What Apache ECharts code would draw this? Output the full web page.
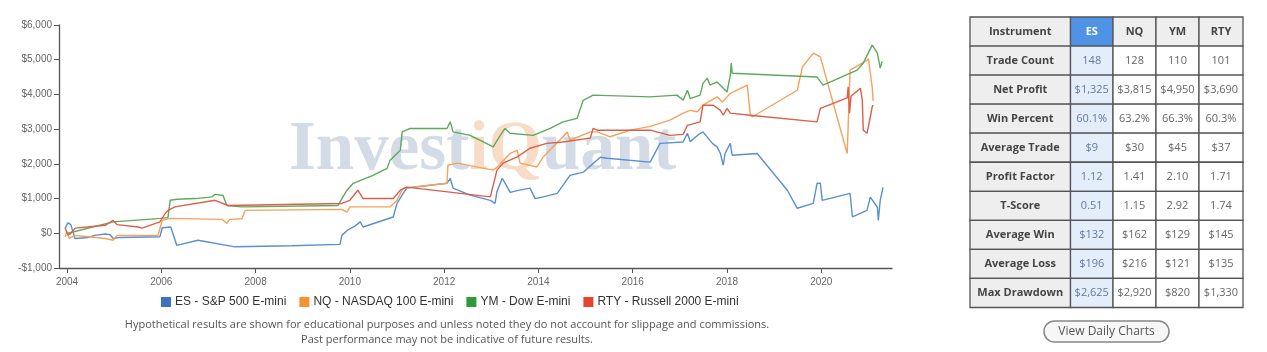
<!DOCTYPE html>
<html lang="en">
<head>
    <meta charset="UTF-8">
    <title>Instrument comparison</title>
    <script src="https://cdn.jsdelivr.net/npm/echarts@6/dist/echarts.min.js"></script>
    <style>
        html, body { margin: 0; padding: 0; background: #fff; }
    </style>
</head>
<body>
    <div id="main" style="width:1267px;height:352px;"></div>
<script>
    // equity curves, [year, cumulative profit $]
    var esData = [
        [2003.96,150],[2004.02,300],[2004.08,250],[2004.17,-150],[2004.45,-120],[2004.59,-60],[2004.81,-20],
        [2004.91,-40],[2004.98,-150],[2005.1,-120],[2005.97,-100],[2006.02,160],[2006.2,180],[2006.33,-350],
        [2006.78,-200],[2007.56,-390],[2008.77,-360],[2009.79,-320],[2009.83,-60],[2009.96,100],[2010.1,200],
        [2010.22,330],[2010.28,180],[2010.92,470],[2011.0,860],[2011.13,1150],[2011.21,1300],[2012.06,1440],
        [2012.13,1580],[2012.19,1300],[2012.55,1100],[2012.98,950],[2013.08,860],[2013.12,1200],[2013.23,1580],
        [2013.29,1450],[2013.4,1180],[2013.55,1230],[2013.82,1300],[2013.93,1000],[2014.1,1050],[2014.4,1150],
        [2014.52,1380],[2014.67,1670],[2014.95,1760],[2015.31,2190],[2015.46,2160],[2016.37,2050],[2016.58,2590],
        [2017.07,2630],[2017.16,2880],[2017.22,2640],[2017.43,2880],[2017.49,2920],[2017.69,2590],[2017.79,2490],
        [2017.86,2300],[2017.92,1960],[2017.96,2300],[2018.07,2590],[2018.11,2250],[2018.64,2300],[2019.28,1240],
        [2019.49,720],[2019.83,860],[2019.91,1440],[2019.98,1440],[2020.02,950],[2020.61,1150],[2020.66,470],
        [2020.97,660],[2021.04,1040],[2021.19,750],[2021.21,370],[2021.25,950],[2021.31,1325]
    ];
    var nqData = [
        [2003.96,-100],[2004.0,50],[2004.05,-150],[2004.17,-60],[2004.45,-100],[2004.81,-150],[2004.98,-200],
        [2005.06,-60],[2005.93,-60],[2006.02,370],[2006.19,430],[2007.29,400],[2007.39,290],[2007.45,400],
        [2007.71,420],[2007.78,660],[2009.83,690],[2009.94,610],[2010.0,760],[2010.85,760],[2011.0,950],
        [2011.13,1300],[2012.06,1440],[2012.08,1960],[2012.28,2020],[2013.04,1820],[2013.12,1900],[2013.4,2300],
        [2013.55,2390],[2013.61,2020],[2013.97,1910],[2014.1,2200],[2014.52,2780],[2014.61,2920],[2014.67,2680],
        [2015.1,2920],[2015.25,2920],[2015.52,2780],[2015.95,2970],[2016.37,3080],[2016.79,3260],[2017.07,3460],
        [2017.22,3540],[2017.37,3500],[2017.49,3690],[2017.79,3930],[2017.9,3780],[2018.07,4030],[2018.43,4270],
        [2018.49,3460],[2018.53,3350],[2019.49,4120],[2019.6,4790],[2019.83,5190],[2019.98,5080],[2020.55,2300],
        [2020.61,4700],[2020.97,4980],[2021.0,5040],[2021.08,4200],[2021.1,3815]
    ];
    var ymData = [
        [2004.02,0],[2004.98,330],[2005.99,430],[2006.14,450],[2006.19,950],[2006.33,980],[2006.72,1000],
        [2007.08,1050],[2007.14,1120],[2007.31,1090],[2007.39,800],[2007.71,760],[2009.75,800],[2009.83,1000],
        [2009.94,1240],[2010.07,1440],[2010.49,1670],[2010.79,1870],[2010.85,2100],[2011.07,2390],[2011.11,2920],
        [2011.28,3020],[2012.06,3020],[2012.13,3210],[2012.19,2920],[2012.55,2820],[2012.83,2630],[2013.04,2490],
        [2013.19,2820],[2013.29,3020],[2013.4,2880],[2013.89,2820],[2014.25,3020],[2014.52,3210],[2014.82,3310],
        [2014.95,3830],[2015.16,3980],[2016.37,3930],[2016.94,3980],[2017.07,3830],[2017.16,4120],[2017.22,3880],
        [2017.43,3980],[2017.49,4320],[2017.58,4470],[2017.64,4270],[2017.79,4360],[2018.0,4070],[2018.07,4550],
        [2018.09,4900],[2018.11,4610],[2019.91,4500],[2020.04,4270],[2020.76,4700],[2020.89,4900],[2021.08,5420],
        [2021.1,5470],[2021.19,5190],[2021.25,4760],[2021.29,4950]
    ];
    var rtyData = [
        [2003.96,150],[2004.02,-50],[2004.08,0],[2004.17,150],[2004.81,230],[2004.98,370],[2005.06,250],
        [2005.51,180],[2005.59,150],[2005.97,330],[2006.08,570],[2006.14,660],[2006.29,760],[2007.14,950],
        [2007.42,800],[2009.83,860],[2010.0,950],[2010.17,1240],[2010.28,1000],[2010.92,1000],[2011.07,1240],
        [2011.21,1330],[2012.98,1050],[2013.12,1820],[2013.25,2020],[2013.55,2200],[2013.82,2450],[2014.18,2590],
        [2014.52,2630],[2015.1,2740],[2015.16,3020],[2015.25,2970],[2016.37,2970],[2016.79,2820],[2017.07,2850],
        [2017.16,3110],[2017.43,3210],[2017.49,3690],[2017.71,3690],[2017.86,3540],[2017.92,3400],[2018.0,3600],
        [2018.07,3460],[2018.49,3400],[2019.91,3210],[2019.98,3600],[2020.55,3900],[2020.57,4220],[2020.6,3460],
        [2020.63,3950],[2020.83,4180],[2020.87,3830],[2020.89,2970],[2020.97,2880],[2021.04,3350],[2021.08,3640],
        [2021.1,3690]
    ];

    var seriesNames = ['ES - S&P 500 E-mini', 'NQ - NASDAQ 100 E-mini', 'YM - Dow E-mini', 'RTY - Russell 2000 E-mini'];

    // stats table
    var instruments = ['ES', 'NQ', 'YM', 'RTY'];
    var metrics = ['Trade Count', 'Net Profit', 'Win Percent', 'Average Trade', 'Profit Factor', 'T-Score', 'Average Win', 'Average Loss', 'Max Drawdown'];
    var esStats = ['148', '$1,325', '60.1%', '$9', '1.12', '0.51', '$132', '$196', '$2,625'];
    var nqStats = ['128', '$3,815', '63.2%', '$30', '1.41', '1.15', '$162', '$216', '$2,920'];
    var ymStats = ['110', '$4,950', '66.3%', '$45', '2.10', '2.92', '$129', '$121', '$820'];
    var rtyStats = ['101', '$3,690', '60.3%', '$37', '1.71', '1.74', '$145', '$135', '$1,330'];

    var disclaimer = [
        'Hypothetical results are shown for educational purposes and unless noted they do not account for slippage and commissions.',
        'Past performance may not be indicative of future results.'
    ];

    var lineColors = ['#5b8fcf', '#f6a15c', '#5fa95c', '#dc5f48'];
    var legendColors = ['#3f72c0', '#f7922e', '#2f9a3c', '#e6442e'];

    var graphics = [];

    // watermark
    graphics.push({
        type: 'text', x: 289, y: 151, z: 0, silent: true,
        style: {
            text: 'Invest{o|iQ}uant',
            fontFamily: 'Liberation Serif', fontWeight: 'bold', fontSize: 69,
            fill: '#d3dbe6', verticalAlign: 'middle',
            rich: { o: { fontFamily: 'Liberation Serif', fontWeight: 'bold', fontSize: 69, fill: '#f9dcc8' } }
        }
    });

    // disclaimer
    disclaimer.forEach(function (t, i) {
        graphics.push({
            type: 'text', x: 447, y: 325 + i * 15,
            style: { text: t, font: '11px "Open Sans"', fill: '#555', align: 'center', verticalAlign: 'middle' }
        });
    });

    // table
    var colX = [970, 1070.5, 1113, 1156, 1199, 1243];
    var rowTop = 17, rowH = 29.05;
    var statCols = [esStats, nqStats, ymStats, rtyStats];
    for (var r = 0; r <= metrics.length; r++) {
        for (var c = 0; c < colX.length - 1; c++) {
            var isHead = r === 0, isFirst = c === 0, isES = c === 1;
            var fill = '#fff', txtColor = '#666', weight = 'normal', text;
            if (isHead) {
                text = isFirst ? 'Instrument' : instruments[c - 1];
                fill = isES ? '#4f93e6' : '#eeeeee';
                txtColor = isES ? '#fff' : '#444';
                weight = 'bold';
            } else if (isFirst) {
                text = metrics[r - 1];
                fill = '#eeeeee'; txtColor = '#444'; weight = 'bold';
            } else {
                text = statCols[c - 1][r - 1];
                if (isES) { fill = '#e4eefb'; txtColor = '#6378a0'; }
            }
            var y0 = rowTop + r * rowH;
            graphics.push({
                type: 'rect',
                shape: { x: colX[c], y: y0, width: colX[c + 1] - colX[c], height: rowH },
                style: { fill: fill, stroke: '#555', lineWidth: 1.3 }
            });
            graphics.push({
                type: 'text', x: (colX[c] + colX[c + 1]) / 2, y: y0 + rowH / 2,
                style: {
                    text: text, fill: txtColor, align: 'center', verticalAlign: 'middle',
                    font: weight + ' 11px "Open Sans"'
                }
            });
        }
    }

    // button
    graphics.push({
        type: 'rect',
        shape: { x: 1044, y: 321, width: 125, height: 21, r: 10.5 },
        style: { fill: '#f7f7f7', stroke: '#888', lineWidth: 1.5 }
    });
    graphics.push({
        type: 'text', x: 1106.5, y: 331.5,
        style: { text: 'View Daily Charts', font: '12px "Open Sans"', fill: '#555', align: 'center', verticalAlign: 'middle' }
    });

    var chart = echarts.init(document.getElementById('main'));
    var allData = [esData, nqData, ymData, rtyData];

    var option = {
        animation: false,
        backgroundColor: '#fff',
        textStyle: { fontFamily: 'Liberation Sans' },
        grid: { left: 59, right: 375, top: 25, bottom: 84, containLabel: false },
        legend: {
            left: 156, top: 291,
            icon: 'rect', itemWidth: 10, itemHeight: 10, itemGap: 13,
            textStyle: { fontFamily: 'Liberation Sans', fontSize: 12, color: '#333', padding: [0, 0, 0, -1] },
            data: seriesNames.map(function (n, i) {
                return { name: n, itemStyle: { color: legendColors[i] } };
            })
        },
        xAxis: {
            type: 'value',
            min: 2003.83, max: 2021.5,
            splitNumber: 9, minInterval: 2, maxInterval: 2,
            axisLine: { onZero: false, lineStyle: { color: '#555', width: 1.3 } },
            axisTick: { show: true, length: 5, lineStyle: { color: '#555' } },
            axisLabel: {
                showMinLabel: false, showMaxLabel: false,
                color: '#666', fontSize: 10, margin: 9,
                formatter: function (v) { return String(Math.round(v)); }
            },
            splitLine: { show: false }
        },
        yAxis: {
            type: 'value',
            min: -1000, max: 6000, interval: 1000,
            axisLine: { show: true, lineStyle: { color: '#555', width: 1.3 } },
            axisTick: { show: true, length: 5, lineStyle: { color: '#555' } },
            axisLabel: {
                color: '#666', fontSize: 10, margin: 7,
                formatter: function (v) {
                    var s = '$' + Math.abs(v).toLocaleString('en-US');
                    return v < 0 ? '-' + s : s;
                }
            },
            splitLine: { show: false }
        },
        graphic: graphics,
        series: seriesNames.map(function (n, i) {
            return {
                name: n,
                type: 'line',
                z: 3,
                showSymbol: false,
                data: allData[i],
                itemStyle: { color: lineColors[i] },
                lineStyle: { color: lineColors[i], width: 1.4 }
            };
        })
    };
    chart.setOption(option);
</script>
</body>
</html>
